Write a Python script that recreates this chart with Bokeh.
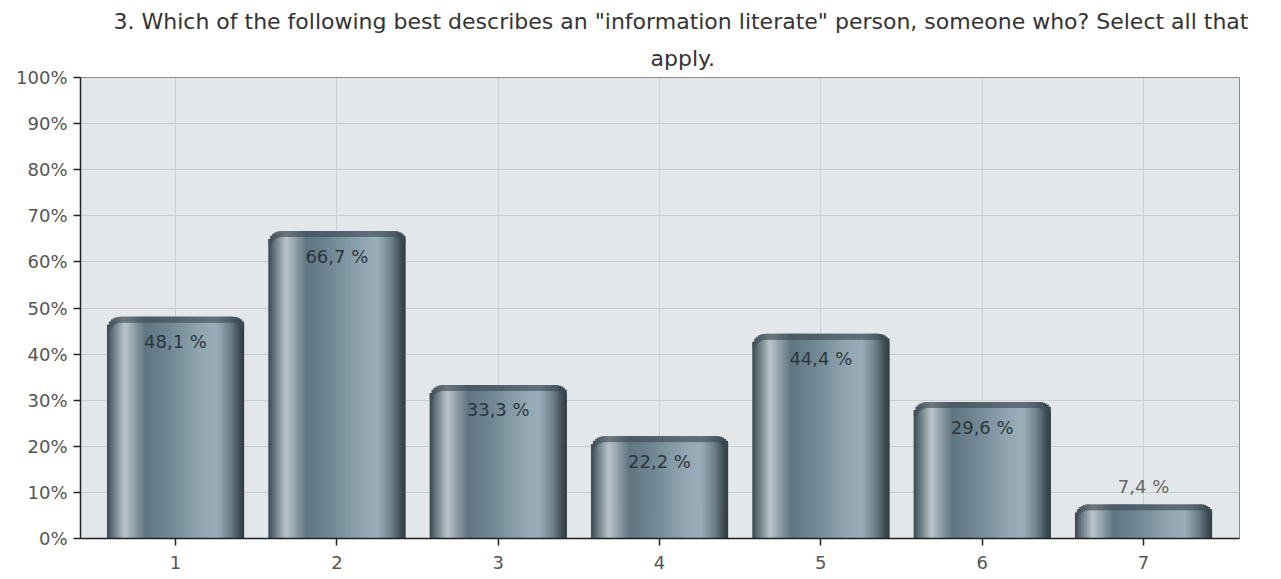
import math
from bokeh.plotting import figure
from bokeh.models import FixedTicker, PrintfTickFormatter, Title, ColumnDataSource
from bokeh.embed import file_html
from bokeh.resources import INLINE

# ---- data ----
categories = ["1", "2", "3", "4", "5", "6", "7"]
values = [48.1, 66.7, 33.3, 22.2, 44.4, 29.6, 7.4]
value_labels = ["48,1 %", "66,7 %", "33,3 %", "22,2 %", "44,4 %", "29,6 %", "7,4 %"]
y_ticks = [0, 10, 20, 30, 40, 50, 60, 70, 80, 90, 100]
title_lines = ['3. Which of the following best describes an "information literate" person, someone who? Select all that',
               'apply.']

# ---- layout ----
W, H = 1273, 571
BL, BR, BT, BB = 80, 34, 77, 31
FW, FH = W - BL - BR, H - BT - BB
X0, X1 = 0.411, 7.595
ppu_x = FW / (X1 - X0)
ppu_y = FH / 100.0
FONT = "DejaVu Sans"

p = figure(width=W, height=H, output_backend="svg", toolbar_location=None,
           x_range=(X0, X1), y_range=(0, 100),
           min_border_left=BL, min_border_right=BR, min_border_top=BT, min_border_bottom=BB,
           background_fill_color="#e4e7ea", border_fill_color="white")
p.outline_line_color = "#8c8c8c"
p.outline_line_width = 1

xs = list(range(1, len(categories) + 1))

# axes
p.xaxis.ticker = FixedTicker(ticks=xs)
p.xaxis.major_label_overrides = {i: c for i, c in zip(xs, categories)}
p.yaxis.ticker = FixedTicker(ticks=y_ticks)
p.yaxis.formatter = PrintfTickFormatter(format="%d%%")
for ax in (p.xaxis[0], p.yaxis[0]):
    ax.axis_line_color = "#222222"
    ax.axis_line_width = 1.5
    ax.major_tick_line_color = "#222222"
    ax.major_tick_line_width = 1.5
    ax.major_tick_out = 7
    ax.major_tick_in = 0
    ax.minor_tick_line_color = None
    ax.major_label_text_font = FONT
    ax.major_label_text_font_size = "18px"
    ax.major_label_text_color = "#555555"
# x ticks drawn outward via a negative inner length, keeping the axis panel compact
p.xaxis.major_tick_out = 0
p.xaxis.major_tick_in = -7
p.xaxis.major_label_standoff = 17
p.yaxis.major_label_standoff = 6

p.xgrid.ticker = FixedTicker(ticks=xs)
p.ygrid.ticker = FixedTicker(ticks=y_ticks)
p.xgrid.grid_line_color = "#cacfd3"
p.ygrid.grid_line_color = "#cacfd3"

# ---- bars: cylindrical gradient built from thin strips ----
stops = [(0.00, (0x3a, 0x48, 0x50)), (0.05, (0x6c, 0x7a, 0x82)), (0.13, (0xbc, 0xc5, 0xca)),
         (0.20, (0x90, 0x9e, 0xa6)), (0.28, (0x60, 0x76, 0x82)), (0.45, (0x70, 0x87, 0x93)),
         (0.70, (0x93, 0xa8, 0xb3)), (0.80, (0x9a, 0xae, 0xb8)), (0.90, (0x6c, 0x80, 0x8a)),
         (0.97, (0x3c, 0x4a, 0x52)), (1.00, (0x30, 0x3c, 0x42))]

def grad(t):
    for (t0, c0), (t1, c1) in zip(stops[:-1], stops[1:]):
        if t <= t1:
            f = (t - t0) / (t1 - t0) if t1 > t0 else 0
            return "#%02x%02x%02x" % tuple(int(round(a + (b - a) * f)) for a, b in zip(c0, c1))
    return "#%02x%02x%02x" % stops[-1][1]

BAR_W = 0.85
N = 70
R = 13.0       # corner radius px
BAND = 6.0     # dark top rim px
L, Rr, T, B, C = [], [], [], [], []
bt, bb = [], []
for x, v in zip(xs, values):
    left = x - BAR_W / 2
    sw = BAR_W / N
    bar_px = BAR_W * ppu_x
    for i in range(N):
        t = (i + 0.5) / N
        d = min(t, 1 - t) * bar_px
        drop = R - math.sqrt(max(R * R - (R - d) ** 2, 0)) if d < R else 0.0
        top = v - drop / ppu_y
        L.append(left + i * sw)
        Rr.append(left + (i + 1) * sw + (sw if i < N - 1 else 0))
        T.append(top); B.append(0); C.append(grad(t))
        bt.append(top); bb.append(max(top - BAND / ppu_y, 0))

p.quad(left=L, right=Rr, top=T, bottom=B, fill_color=C, line_color=None)
p.quad(left=L, right=Rr, top=bt, bottom=bb, fill_color="#3e4c54", fill_alpha=0.4, line_color=None)

# ---- value labels ----
lab_off, lab_col = [], []
for v in values:
    if v < 10:
        lab_off.append(-18); lab_col.append("#666666")
    else:
        lab_off.append(25); lab_col.append("#2c363c")
src = ColumnDataSource(dict(x=xs, y=values, t=value_labels, off=lab_off, c=lab_col))
p.text(x="x", y="y", text="t", y_offset="off", text_color="c", source=src,
       text_align="center", text_baseline="middle", text_font_size="18px",
       text_font={"value": FONT})

# ---- title (two lines, nearest-first) ----
p.add_layout(Title(text=title_lines[1], align="left", offset=570, standoff=13,
                   text_font=FONT, text_font_size="22px", text_font_style="normal",
                   text_color="#333333"), "above")
p.add_layout(Title(text=title_lines[0], align="left", offset=33, standoff=7,
                   text_font=FONT, text_font_size="22px", text_font_style="normal",
                   text_color="#333333"), "above")

open("out.html", "w").write(file_html(p, INLINE))
